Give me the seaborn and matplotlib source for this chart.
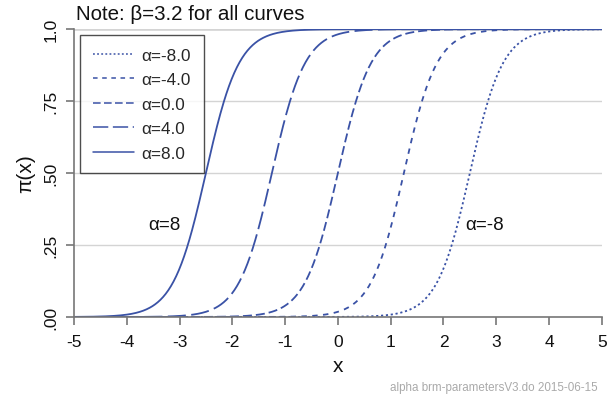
import numpy as np
import pandas as pd
import matplotlib
matplotlib.use("Agg")
import matplotlib.pyplot as plt
import seaborn as sns

# Model parameters: pi(x) = 1 / (1 + exp(-(alpha + beta * x)))
beta = 3.2
alphas = [-8.0, -4.0, 0.0, 4.0, 8.0]
alpha_labels = ["α=-8.0", "α=-4.0", "α=0.0", "α=4.0", "α=8.0"]
y_ticks = [0.0, 0.25, 0.5, 0.75, 1.0]
y_ticklabels = [".00", ".25", ".50", ".75", "1.0"]
x_ticks = [-5, -4, -3, -2, -1, 0, 1, 2, 3, 4, 5]

x = np.linspace(-5, 5, 801)
frames = []
for a, lab in zip(alphas, alpha_labels):
    frames.append(pd.DataFrame({"x": x,
                                "pi": 1.0 / (1.0 + np.exp(-(a + beta * x))),
                                "curve": lab}))
df = pd.concat(frames, ignore_index=True)

sns.set_style("white")
plt.rcParams["font.family"] = ["Liberation Sans", "DejaVu Sans"]

blue = "#3a52a6"
dash_styles = {
    "α=-8.0": (1.2, 1.5),
    "α=-4.0": (3.0, 3.0),
    "α=0.0": (5.0, 2.2),
    "α=4.0": (10.0, 3.0),
    "α=8.0": "",
}

fig = plt.figure(figsize=(6.16, 4.02), dpi=100)
ax = fig.add_axes([0.120, 0.209, 0.857, 0.716])

sns.lineplot(data=df, x="x", y="pi", hue="curve", style="curve",
             palette={lab: blue for lab in alpha_labels},
             dashes=dash_styles, hue_order=alpha_labels,
             style_order=alpha_labels, linewidth=1.3, ax=ax)

ax.set_xlim(-5, 5)
ax.set_ylim(0, 1)
ax.set_xticks(x_ticks)
ax.set_xticklabels([str(t) for t in x_ticks])
ax.set_yticks(y_ticks)
ax.set_yticklabels(y_ticklabels, rotation=90, va="center")
ax.yaxis.grid(True, color="#d4d4d4", linewidth=1.0)
ax.set_axisbelow(True)

ax.spines["right"].set_visible(False)
ax.spines["top"].set_visible(False)
for side in ["left", "bottom"]:
    ax.spines[side].set_color("#777777")
    ax.spines[side].set_linewidth(1.2)

ax.tick_params(axis="both", direction="out", length=6, width=1.2,
               color="#777777", labelsize=12.5, labelcolor="#111111")
ax.tick_params(axis="x", bottom=True, pad=6)
ax.tick_params(axis="y", left=True, pad=5)

ax.set_xlabel("x", fontsize=15, color="#111111", labelpad=5)
ax.set_ylabel("π(x)", fontsize=15, color="#111111", labelpad=6)

# Top reference line across the plot region
ax.axhline(1.0, color="#555555", linewidth=1.0, zorder=0.5)

ax.text(-3.28, 0.32, "α=8", fontsize=13.5, ha="center", va="center",
        color="#111111")
ax.text(2.78, 0.32, "α=-8", fontsize=13.5, ha="center", va="center",
        color="#111111")

fig.text(0.123, 0.963, "Note: β=3.2 for all curves", fontsize=14.8,
         ha="left", va="center", color="#111111")
fig.text(0.970, 0.035, "alpha brm-parametersV3.do 2015-06-15", fontsize=8.4,
         ha="right", va="center", color="#aaaaaa")

leg = ax.legend(loc="upper left", bbox_to_anchor=(0.011, 0.979),
                fontsize=12.3, frameon=True, fancybox=False,
                edgecolor="#222222", handlelength=2.4, handletextpad=0.45,
                labelspacing=0.55, borderpad=0.75, borderaxespad=0)
leg.get_frame().set_linewidth(1.0)
for line in leg.get_lines():
    line.set_linewidth(1.1)

fig.savefig("out.png", dpi=100)
